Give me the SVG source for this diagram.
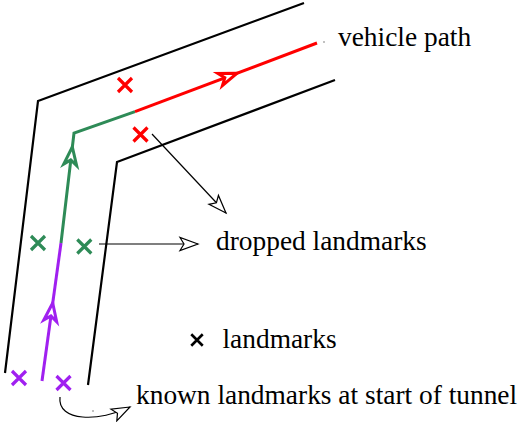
<svg xmlns="http://www.w3.org/2000/svg" width="520" height="422" viewBox="0 0 520 422">
  <style>
    .wall { fill: none; stroke: #000; stroke-width: 2.2; stroke-linejoin: miter; }
    .path { fill: none; stroke-width: 3; stroke-linecap: butt; stroke-linejoin: miter; }
    .head { fill: #fff; stroke-width: 3; stroke-linejoin: miter; }
    .x { fill: none; stroke-width: 3.2; stroke-linecap: butt; }
    .conn { fill: none; stroke: #000; stroke-width: 1.2; }
    .label { font-size: 27.4px; fill: #000; }
  </style>
  <defs>
    <marker id="open" markerUnits="userSpaceOnUse" markerWidth="24" markerHeight="18" viewBox="0 0 24 18" refX="21" refY="9" orient="auto">
      <path d="M21,9 L3,2.5 L7,9 L3,15.5 Z" fill="#fff" stroke="#000" stroke-width="1.2" stroke-linejoin="miter"/>
    </marker>
    <path id="dart" d="M0,0 L-18,-6.5 L-13,0 L-18,6.5 Z"/>
    <path id="xm" d="M-7,-7 L7,7 M-7,7 L7,-7"/>
  </defs>

  <g id="tunnel">
    <polyline class="wall" points="5,373 38,101 304,3"/>
    <polyline class="wall" points="88,385 117,162 335,80"/>
  </g>

  <g id="vehicle-path">
    <polyline class="path" stroke="#a020f0" points="42,381 61,243"/>
    <polyline class="path" stroke="#2e8b57" points="61,243 74,133 135,111.7"/>
    <polyline class="path" stroke="#ff0000" points="135,111.7 317,43"/>
    <use href="#dart" class="head" stroke="#a020f0" transform="translate(52.7,303) rotate(-82.16)"/>
    <use href="#dart" class="head" stroke="#2e8b57" transform="translate(72.3,147) rotate(-83.26)"/>
    <use href="#dart" class="head" stroke="#ff0000" transform="translate(237,73.2) rotate(-20.68)"/>
  </g>

  <g id="landmarks">
    <use href="#xm" class="x" stroke="#ff0000" transform="translate(125,85)"/>
    <use href="#xm" class="x" stroke="#ff0000" transform="translate(140.5,134.5)"/>
    <use href="#xm" class="x" stroke="#2e8b57" transform="translate(38,243)"/>
    <use href="#xm" class="x" stroke="#2e8b57" transform="translate(84.3,246.5)"/>
    <use href="#xm" class="x" stroke="#a020f0" transform="translate(19,378)"/>
    <use href="#xm" class="x" stroke="#a020f0" transform="translate(63.5,383)"/>
  </g>

  <g id="label-vehicle-path">
    <text class="label" font-family="'Liberation Serif', 'DejaVu Serif', serif" x="338" y="46">vehicle path</text>
  </g>
  <g id="label-dropped">
    <text class="label" font-family="'Liberation Serif', 'DejaVu Serif', serif" x="216" y="250">dropped landmarks</text>
  </g>
  <g id="legend-landmarks">
    <use href="#xm" class="x" stroke="#000" stroke-width="3.8" transform="translate(197,340) scale(0.82)"/>
    <text class="label" font-family="'Liberation Serif', 'DejaVu Serif', serif" x="222.5" y="348">landmarks</text>
  </g>
  <g id="label-known">
    <text class="label" font-family="'Liberation Serif', 'DejaVu Serif', serif" x="136" y="404">known landmarks at start of tunnel</text>
  </g>

  <g id="connectors">
    <line class="conn" x1="152" y1="134" x2="226" y2="213" marker-end="url(#open)"/>
    <line class="conn" x1="99" y1="244" x2="198" y2="244" marker-end="url(#open)"/>
    <path class="conn" d="M60,397 C57,422 100,422 130,407" marker-end="url(#open)"/>
    <circle cx="324" cy="42" r="0.7" fill="#555"/>
    <circle cx="93" cy="411" r="0.7" fill="#555"/>
  </g>
</svg>
